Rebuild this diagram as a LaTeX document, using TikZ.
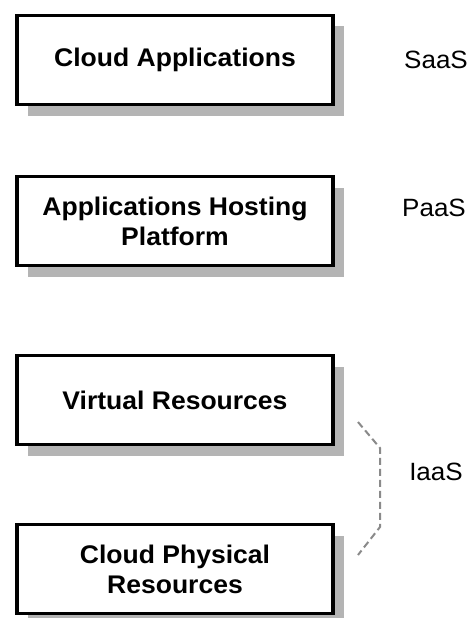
\documentclass[tikz,border=0pt]{standalone}
\usepackage{fontspec}
\setmainfont{Liberation Sans}[FakeStretch=1.04]
\usetikzlibrary{shadows}
\definecolor{shadowgrey}{HTML}{B4B4B4}
\definecolor{bracegrey}{HTML}{8A8A8A}
\tikzset{
  layerbox/.style={draw=black, line width=3.6pt, fill=white,
    minimum width=316pt, minimum height=89pt, inner sep=0pt,
    align=center, font=\fontsize{25.5}{30}\selectfont\bfseries,
    drop shadow={shadow xshift=11pt, shadow yshift=-11pt,
      fill=shadowgrey, opacity=1}},
  servicelabel/.style={font=\fontsize{25}{30}\selectfont, inner sep=0pt},
  bracepath/.style={draw=bracegrey, line width=2pt, dash pattern=on 7pt off 4pt}
}
\begin{document}
\begin{tikzpicture}[x=1pt, y=-1pt]
  \useasboundingbox[fill=white] (0,0) rectangle (470,618);

  % service layers
  \node[layerbox] (apps)     at (175,60)    {Cloud Applications};
  \node[layerbox] (hosting)  at (175,221)   {Applications Hosting\\Platform};
  \node[layerbox] (virtual)  at (175,400)   {Virtual Resources};
  \node[layerbox] (physical) at (175,569)   {Cloud Physical\\Resources};

  % service model labels
  \node[servicelabel] (saas) at (436,60)  {SaaS};
  \node[servicelabel] (paas) at (434,208) {PaaS};
  \node[servicelabel] (iaas) at (436,472) {IaaS};

  % dashed brace grouping the two infrastructure layers
  \coordinate (braceTop)    at (358,422);
  \coordinate (braceUpper)  at (380,448);
  \coordinate (braceLower)  at (380,527);
  \coordinate (braceBottom) at (358,555);
  \draw[bracepath] (braceTop) -- (braceUpper) -- (braceLower) -- (braceBottom);
\end{tikzpicture}
\end{document}
